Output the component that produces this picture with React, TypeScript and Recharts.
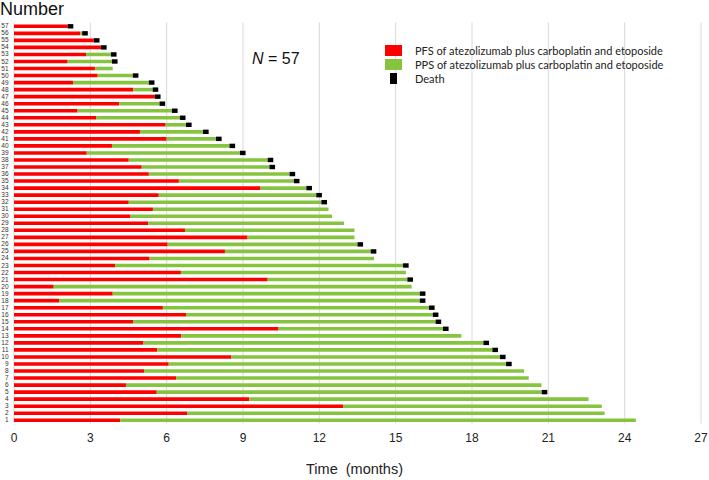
import React from "react";
import {
  BarChart,
  Bar,
  XAxis,
  YAxis,
  CartesianGrid,
  Legend,
  Label,
} from "recharts";

// patient numbers, bottom (1) to top (57)
const patientIds = [
  1, 2, 3, 4, 5, 6, 7, 8, 9, 10, 11, 12, 13, 14, 15, 16, 17, 18, 19, 20,
  21, 22, 23, 24, 25, 26, 27, 28, 29, 30, 31, 32, 33, 34, 35, 36, 37, 38, 39, 40,
  41, 42, 43, 44, 45, 46, 47, 48, 49, 50, 51, 52, 53, 54, 55, 56, 57,
];

// progression-free survival (months)
const pfsMonths = [
  4.18, 6.82, 12.93, 9.25, 5.61, 4.4, 6.37, 5.11, 6.08, 8.53,
  5.63, 5.07, 6.57, 10.4, 4.68, 6.76, 5.85, 1.77, 3.88, 1.56,
  9.97, 6.56, 3.97, 5.33, 8.29, 6.04, 9.18, 6.72, 5.28, 4.58,
  5.46, 4.51, 5.69, 9.69, 6.48, 5.3, 5.02, 4.51, 2.86, 3.85,
  6.0, 4.95, 5.96, 3.24, 2.5, 4.13, 5.54, 4.69, 2.32, 3.29,
  3.18, 2.11, 2.83, 3.42, 3.14, 2.61, 2.11,
];

// post-progression survival (months)
const ppsMonths = [
  20.26, 16.39, 10.17, 13.33, 15.13, 16.33, 13.86, 14.94, 13.26, 10.57,
  13.17, 13.38, 11.01, 6.46, 11.89, 9.7, 10.46, 14.18, 12.07, 14.07,
  5.49, 8.84, 11.32, 8.82, 5.73, 7.46, 4.2, 6.66, 7.69, 7.92,
  6.9, 7.57, 6.19, 1.8, 4.52, 5.53, 5.02, 5.46, 6.02, 4.62,
  1.94, 2.48, 0.8, 3.28, 3.71, 1.59, 0, 0.76, 2.98, 1.38,
  0.7, 1.74, 0.98, 0, 0, 0.07, 0,
];

// 1 = died
const died = [
  0, 0, 0, 0, 1, 0, 0, 0, 1, 1,
  1, 1, 0, 1, 1, 1, 1, 1, 1, 0,
  1, 0, 1, 0, 1, 1, 0, 0, 0, 0,
  0, 1, 1, 1, 1, 1, 1, 1, 1, 1,
  1, 1, 1, 1, 1, 1, 1, 1, 1, 1,
  0, 1, 1, 1, 1, 1, 1,
];

const xTicks = [0, 3, 6, 9, 12, 15, 18, 21, 24, 27];

const DEATH_MARK = 0.22;

const data = patientIds.map((id, i) => ({
  id: String(id),
  pfs: pfsMonths[i],
  pps: ppsMonths[i],
  death: died[i] ? DEATH_MARK : 0,
}));

const RED = "#ff0000";
const GREEN = "#86c440";
const legendOrder = ["pfs", "pps", "death"];

function LegendBox({ payload }: any) {
  const items = [...(payload || [])].sort(
    (a: any, b: any) => legendOrder.indexOf(a.dataKey) - legendOrder.indexOf(b.dataKey)
  );
  return (
    <div style={{ fontFamily: "Lato, 'Open Sans', sans-serif", fontSize: 11, color: "#222" }}>
      {items.map((p: any) => {
        const small = p.dataKey === "death";
        return (
          <div key={p.value} style={{ display: "flex", alignItems: "center", height: 14 }}>
            <div style={{ width: 17, display: "flex", justifyContent: "center" }}>
              <div style={{ width: small ? 7 : 17, height: 11, background: p.color }} />
            </div>
            <span style={{ marginLeft: 13, whiteSpace: "nowrap" }}>{p.value}</span>
          </div>
        );
      })}
    </div>
  );
}

function DeathShape(props: any) {
  const { x, y, width, height, fill } = props;
  if (!width || width <= 0) return null;
  return <rect x={x} y={y - 0.4} width={width} height={height + 0.8} fill={fill} />;
}

export default function App() {
  return (
    <div
      style={{
        position: "absolute",
        left: 0,
        top: 0,
        width: 709,
        height: 480,
        background: "#fff",
        fontFamily: "'Liberation Sans', Arial, sans-serif",
      }}
    >
      <BarChart
        width={709}
        height={480}
        data={data}
        layout="vertical"
        margin={{ top: 22.5, right: 8, bottom: 0, left: 0 }}
        barSize={3.6}
      >
        <CartesianGrid horizontal={false} stroke="#d9d9d9" />
        <XAxis
          type="number"
          domain={[0, 27]}
          ticks={xTicks}
          axisLine={false}
          tickLine={false}
          tickSize={0}
          tickMargin={10}
          height={56.5}
          tick={{ fontSize: 12, fill: "#222", fontFamily: "'Liberation Sans Narrow', 'Liberation Sans', Arial" }}
        >
          <Label
            value={"Time\u00a0 (months)"}
            position="insideBottom"
            offset={6}
            dx={-3}
            style={{ fontSize: 14.5, fill: "#222" }}
          />
        </XAxis>
        <YAxis
          type="category"
          dataKey="id"
          reversed
          interval={0}
          width={14}
          axisLine={false}
          tickLine={false}
          tickSize={0}
          tickMargin={5.5}
          tick={{ fontSize: 6.5, fill: "#333" }}
        />
        <Legend
          layout="vertical"
          align="center"
          verticalAlign="middle"
          wrapperStyle={{ left: 385, top: 43, width: "auto" }}
          content={<LegendBox />}
        />
        <Bar
          dataKey="pfs"
          name="PFS of atezolizumab plus carboplatin and etoposide"
          stackId="s"
          fill={RED}
          isAnimationActive={false}
        />
        <Bar
          dataKey="pps"
          name="PPS of atezolizumab plus carboplatin and etoposide"
          stackId="s"
          fill={GREEN}
          isAnimationActive={false}
        />
        <Bar
          dataKey="death"
          name="Death"
          stackId="s"
          fill="#000"
          shape={<DeathShape />}
          isAnimationActive={false}
        />
      </BarChart>
      <div
        style={{
          position: "absolute",
          left: 0,
          top: -1,
          fontSize: 18,
          color: "#111",
          lineHeight: "20px",
        }}
      >
        Number
      </div>
      <div
        style={{
          position: "absolute",
          left: 252,
          top: 50,
          fontSize: 16,
          color: "#111",
          lineHeight: "18px",
          whiteSpace: "nowrap",
        }}
      >
        <i>N</i> = 57
      </div>
    </div>
  );
}
